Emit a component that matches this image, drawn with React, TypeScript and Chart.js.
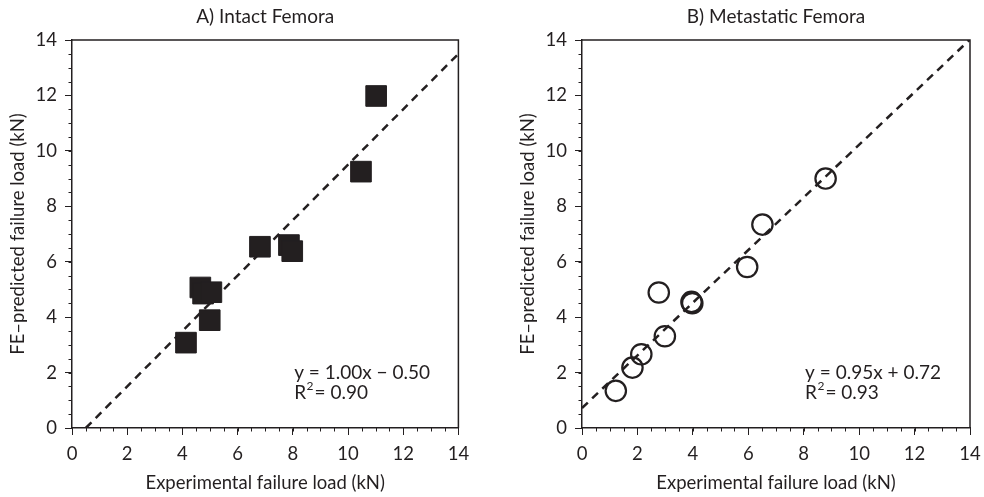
import React, { useEffect, useRef } from 'react';
import { Chart, registerables } from 'chart.js';

Chart.register(...registerables);

// ---- data ----
const intactExp = [4.13, 4.99, 4.65, 4.75, 5.05, 6.81, 7.86, 7.98, 10.47, 11.02];
const intactFE = [3.08, 3.89, 5.07, 4.85, 4.9, 6.54, 6.6, 6.38, 9.25, 11.98];
const metaExp = [1.22, 1.82, 2.14, 2.77, 2.99, 3.95, 3.98, 5.96, 6.51, 8.79];
const metaFE = [1.34, 2.18, 2.66, 4.89, 3.31, 4.55, 4.5, 5.81, 7.34, 9.0];
const fitIntactX = [0.5, 14];
const fitIntactY = [0, 13.5];
const fitMetaX = [0, 14];
const fitMetaY = [0.72, 14.02];
const axisMin = 0;
const axisMax = 14;
const majorStep = 2;
const minorStep = 0.5;
const titles = ['A) Intact Femora', 'B) Metastatic Femora'];
const eqIntact = ['y = 1.00x \u2212 0.50', '0.90'];
const eqMeta = ['y = 0.95x + 0.72', '0.93'];
const xTitle = 'Experimental failure load (kN)';
const yTitle = 'FE\u2013predicted failure load (kN)';

const INK = '#231f20';
const FONT = 'Lato, "Open Sans", sans-serif';

const decorPlugin = {
  id: 'decor',
  afterDraw(chart: any, _args: any, opts: any) {
    const { ctx, chartArea } = chart;
    const xs = chart.scales.x;
    const ys = chart.scales.y;
    ctx.save();
    // frame top & right
    ctx.strokeStyle = INK;
    ctx.lineWidth = 1.5;
    ctx.beginPath();
    ctx.moveTo(chartArea.left, chartArea.top);
    ctx.lineTo(chartArea.right, chartArea.top);
    ctx.lineTo(chartArea.right, chartArea.bottom);
    ctx.stroke();
    // minor ticks
    ctx.lineWidth = 1;
    ctx.beginPath();
    for (let v = axisMin; v <= axisMax + 1e-9; v += minorStep) {
      const px = Math.round(xs.getPixelForValue(v)) + 0.5;
      ctx.moveTo(px, chartArea.bottom);
      ctx.lineTo(px, chartArea.bottom + 3.5);
      const py = Math.round(ys.getPixelForValue(v)) + 0.5;
      ctx.moveTo(chartArea.left, py);
      ctx.lineTo(chartArea.left - 3.5, py);
    }
    ctx.stroke();
    // title
    ctx.fillStyle = INK;
    ctx.font = `19px ${FONT}`;
    ctx.textAlign = 'center';
    ctx.textBaseline = 'middle';
    ctx.fillText(opts.title, (chartArea.left + chartArea.right) / 2, 17);
    // equation
    ctx.textAlign = 'left';
    const ex = xs.getPixelForValue(opts.eqX);
    const ey1 = ys.getPixelForValue(opts.eqY1);
    const ey2 = ys.getPixelForValue(opts.eqY2);
    ctx.fillText(opts.eq[0], ex, ey1);
    ctx.fillText('R', ex, ey2);
    const rw = ctx.measureText('R').width;
    ctx.font = `12px ${FONT}`;
    ctx.fillText('2', ex + rw + 0.5, ey2 - 7);
    const sw = ctx.measureText('2').width;
    ctx.font = `19px ${FONT}`;
    ctx.fillText('= ' + opts.eq[1], ex + rw + sw + 1.5, ey2);
    ctx.restore();
  },
};

function buildConfig(kind: 'intact' | 'meta') {
  const isIntact = kind === 'intact';
  const xsData = isIntact ? intactExp : metaExp;
  const ysData = isIntact ? intactFE : metaFE;
  const fx = isIntact ? fitIntactX : fitMetaX;
  const fy = isIntact ? fitIntactY : fitMetaY;
  const tickFont = { family: FONT, size: 18.5 };
  const titleFont = { family: FONT, size: 18.5 };
  const pointDs: any = isIntact
    ? {
        type: 'scatter',
        data: xsData.map((x, i) => ({ x, y: ysData[i] })),
        pointStyle: 'rect',
        pointRadius: 14.6,
        backgroundColor: INK,
        borderColor: INK,
        borderWidth: 1,
        order: 0,
      }
    : {
        type: 'scatter',
        data: xsData.map((x, i) => ({ x, y: ysData[i] })),
        pointStyle: 'circle',
        pointRadius: 10.2,
        backgroundColor: 'rgba(0,0,0,0)',
        borderColor: INK,
        borderWidth: 2.2,
        order: 0,
      };
  return {
    type: 'scatter',
    data: {
      datasets: [
        pointDs,
        {
          type: 'line',
          data: fx.map((x, i) => ({ x, y: fy[i] })),
          borderColor: INK,
          borderWidth: 2.5,
          borderDash: [8, 6],
          pointRadius: 0,
          fill: false,
          order: 1,
        },
      ],
    },
    options: {
      responsive: false,
      animation: false,
      events: [],
      layout: { padding: { top: 40, right: 14, left: 0, bottom: 0 } },
      plugins: {
        legend: { display: false },
        tooltip: { enabled: false },
        title: { display: false },
        decor: {
          title: isIntact ? titles[0] : titles[1],
          eq: isIntact ? eqIntact : eqMeta,
          eqX: 8.05,
          eqY1: 1.98,
          eqY2: 1.26,
        },
      },
      scales: {
        x: {
          type: 'linear',
          min: axisMin,
          max: axisMax,
          ticks: { stepSize: majorStep, color: INK, font: tickFont, padding: 8, maxRotation: 0 },
          grid: { drawOnChartArea: false, tickLength: 7, color: INK, lineWidth: 1 },
          border: { color: INK, width: 1.5 },
          title: { display: true, text: xTitle, color: INK, font: titleFont, padding: { top: 0, bottom: 3 } },
          afterFit: (s: any) => {
            s.height = 69;
            s.paddingLeft = 0;
            s.paddingRight = 0;
          },
        },
        y: {
          type: 'linear',
          min: axisMin,
          max: axisMax,
          ticks: { stepSize: majorStep, color: INK, font: tickFont, padding: 8 },
          grid: { drawOnChartArea: false, tickLength: 7, color: INK, lineWidth: 1 },
          border: { color: INK, width: 1.5 },
          title: { display: true, text: yTitle, color: INK, font: titleFont, padding: { top: 7, bottom: 0 } },
          afterFit: (s: any) => {
            s.width = 72;
            s.paddingTop = 0;
            s.paddingBottom = 0;
          },
        },
      },
    },
    plugins: [decorPlugin],
  };
}

function Panel({ kind, left }: { kind: 'intact' | 'meta'; left: number }) {
  const ref = useRef<HTMLCanvasElement>(null);
  useEffect(() => {
    if (!ref.current) return;
    const chart = new Chart(ref.current, buildConfig(kind) as any);
    return () => chart.destroy();
  }, [kind]);
  return (
    <canvas
      ref={ref}
      width={474}
      height={497}
      style={{ position: 'absolute', left, top: 0, width: 474, height: 497 }}
    />
  );
}

export default function App() {
  return (
    <div style={{ position: 'absolute', left: 0, top: 0, width: 984, height: 497, background: '#fff' }}>
      <Panel kind="intact" left={0} />
      <Panel kind="meta" left={510} />
    </div>
  );
}
